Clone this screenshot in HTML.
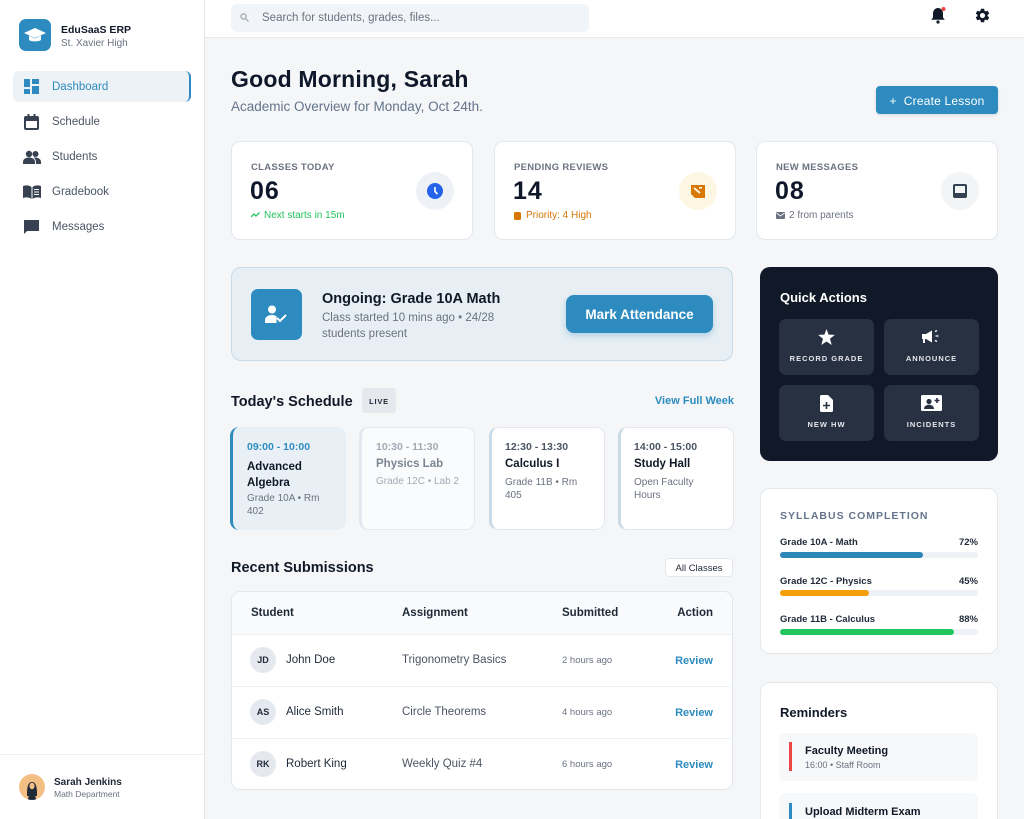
<!DOCTYPE html>
<html><head><meta charset="utf-8">
<style>
*{box-sizing:border-box;margin:0;padding:0}
html,body{width:1024px;height:819px;overflow:hidden}
body{background:#f4f6f8;font-family:"Liberation Sans",sans-serif;position:relative;color:#111827}
.a{position:absolute}
.t{position:absolute;white-space:nowrap;line-height:1;margin-top:1px}
.b{font-weight:bold}
.card{position:absolute;background:#fff;border:1px solid #e3e8ee;border-radius:9px}
.nav{color:#4b5563;font-size:11.5px}
.lbl{font-size:9.5px;font-weight:bold;color:#6b7280;letter-spacing:0.3px}
.num{font-size:25px;font-weight:bold;color:#0f172a;letter-spacing:1px}
.circ{position:absolute;width:38px;height:38px;border-radius:50%}
.qa{position:absolute;width:95px;height:56px;background:#283142;border-radius:7px}
.qal{position:absolute;left:0;width:95px;text-align:center;top:36px;font-size:7.5px;font-weight:bold;color:#e5e7eb;letter-spacing:1px;line-height:1}
.sc{position:absolute;top:427px;width:116px;height:103px;border-radius:9px}
.th{font-size:11.5px;font-weight:bold;color:#1f2937}
.av{position:absolute;width:26px;height:26px;border-radius:50%;background:#e5e9ef;font-size:9px;font-weight:bold;color:#1f2937;text-align:center;line-height:26px}
.nm{font-size:11.5px;color:#1f2937}
.as{font-size:11.5px;color:#4b5563}
.tm{font-size:9.5px;color:#6b7280}
.rv{font-size:11px;font-weight:bold;color:#2d8bbf}
.row{position:absolute;left:231px;width:502px;height:1px;background:#eef1f4}
.pl{font-size:9.5px;font-weight:bold;color:#1f2937}
.track{position:absolute;left:780px;width:198px;height:6px;border-radius:3px;background:#eef2f6}
.fill{position:absolute;left:0;top:0;height:6px;border-radius:3px}
</style></head><body>

<!-- Sidebar -->
<div class="a" style="left:0;top:0;width:205px;height:819px;background:#fff;border-right:1px solid #e5e7eb"></div>
<div class="a" style="left:19px;top:19px;width:32px;height:32px;border-radius:7px;background:#2d8bbf">
<svg width="32" height="32" viewBox="0 0 32 32"><path d="M16 9 L27 14 L16 19 L5 14 Z" fill="#fff"/><path d="M10 16.5 v4 c0 2.5 12 2.5 12 0 v-4 l-6 3 z" fill="#fff"/></svg>
</div>
<div class="t b" style="left:61px;top:24px;font-size:10.5px;color:#111827">EduSaaS ERP</div>
<div class="t" style="left:61px;top:38px;font-size:10px;color:#6b7280">St. Xavier High</div>

<div class="a" style="left:13px;top:71px;width:178px;height:31px;border-radius:6px;background:#edf2f6;border-right:2px solid #2d8bbf"></div>
<svg class="a" style="left:24px;top:79px" width="15" height="15" viewBox="0 0 15 15"><rect x="0" y="0" width="6" height="8" fill="#2d8bbf"/><rect x="8" y="0" width="7" height="5" fill="#2d8bbf"/><rect x="0" y="10" width="6" height="5" fill="#2d8bbf"/><rect x="8" y="7" width="7" height="8" fill="#2d8bbf"/></svg>
<div class="t nav" style="left:52px;top:81px;color:#2d8bbf">Dashboard</div>

<svg class="a" style="left:24px;top:114px" width="15" height="16" viewBox="0 0 15 16"><rect x="1" y="3" width="13" height="12" rx="1" fill="none" stroke="#374151" stroke-width="2"/><rect x="1" y="3" width="13" height="4" fill="#374151"/><rect x="3.5" y="0" width="2" height="4" fill="#374151"/><rect x="9.5" y="0" width="2" height="4" fill="#374151"/></svg>
<div class="t nav" style="left:52px;top:116px">Schedule</div>

<svg class="a" style="left:23px;top:150px" width="18" height="14" viewBox="0 0 18 14"><circle cx="6" cy="4" r="3.2" fill="#374151"/><circle cx="12.5" cy="4" r="3" fill="#374151"/><path d="M0 14 v-2 c0-3 3-4.5 6-4.5 s6 1.5 6 4.5 v2z" fill="#374151"/><path d="M12 7.5 c3 0 6 1.5 6 4.5 v2 h-5 v-2 c0-2-1-3.5-2.5-4.3z" fill="#374151"/></svg>
<div class="t nav" style="left:52px;top:151px">Students</div>

<svg class="a" style="left:23px;top:185px" width="18" height="14" viewBox="0 0 18 14"><path d="M0 1 c3-1 6-1 8.5 1 v12 c-2.5-2-5.5-2-8.5-1z" fill="#374151"/><path d="M18 1 c-3-1-6-1-8.5 1 v12 c2.5-2 5.5-2 8.5-1z" fill="#374151"/><rect x="11" y="4" width="5" height="1" fill="#fff"/><rect x="11" y="6.5" width="5" height="1" fill="#fff"/><rect x="11" y="9" width="5" height="1" fill="#fff"/></svg>
<div class="t nav" style="left:52px;top:186px">Gradebook</div>

<svg class="a" style="left:24px;top:220px" width="15" height="15" viewBox="0 0 15 15"><path d="M0 0 h15 v11 h-12 l-3 3z" fill="#374151"/></svg>
<div class="t nav" style="left:52px;top:221px">Messages</div>

<div class="a" style="left:0;top:754px;width:204px;height:65px;background:#fff;border-top:1px solid #eef0f3"></div>
<div class="a" style="left:19px;top:774px;width:26px;height:26px;border-radius:50%;background:#f4bf85;overflow:hidden">
<svg width="26" height="26" viewBox="0 0 26 26"><path d="M8 22 c0-6 0-14 5-14 s5 8 5 14z" fill="#1f2937"/><ellipse cx="13" cy="12" rx="2.6" ry="3.2" fill="#f4bf85"/><path d="M9 26 c0-4 2-6 4-6 s4 2 4 6z" fill="#1f2937"/></svg>
</div>
<div class="t b" style="left:54px;top:777px;font-size:10px;color:#1f2937">Sarah Jenkins</div>
<div class="t" style="left:54px;top:789px;font-size:8.5px;color:#6b7280">Math Department</div>

<!-- Header -->
<div class="a" style="left:205px;top:0;width:819px;height:38px;background:#fff;border-bottom:1px solid #e8ecf0"></div>
<div class="a" style="left:231px;top:4px;width:358px;height:28px;border-radius:6px;background:#f1f5f9"></div>
<svg class="a" style="left:240px;top:13px" width="9" height="9" viewBox="0 0 9 9"><circle cx="3.5" cy="3.5" r="2.6" fill="none" stroke="#9ca3af" stroke-width="1.2"/><path d="M5.5 5.5 L8.5 8.5" stroke="#9ca3af" stroke-width="1.2"/></svg>
<div class="t" style="left:262px;top:12px;font-size:11.5px;color:#6b7280">Search for students, grades, files...</div>
<svg class="a" style="left:930px;top:7px" width="16" height="17" viewBox="0 0 16 17"><path d="M8 1 c-3 0-5 2.5-5 5.5 v4 l-1.8 2.2 h13.6 l-1.8-2.2 v-4 c0-3-2-5.5-5-5.5z" fill="#111827"/><circle cx="8" cy="15" r="1.6" fill="#111827"/><circle cx="13.5" cy="2" r="2" fill="#ef4444"/></svg>
<svg class="a" style="left:974px;top:7px" width="17" height="17" viewBox="0 0 24 24"><path fill="#111827" d="M19.14 12.94c.04-.3.06-.61.06-.94 0-.32-.02-.64-.07-.94l2.03-1.58a.49.49 0 0 0 .12-.61l-1.92-3.32a.488.488 0 0 0-.59-.22l-2.390.96c-.5-.38-1.03-.7-1.62-.94l-.36-2.54a.484.484 0 0 0-.48-.41h-3.84c-.24 0-.43.17-.47.41l-.36 2.54c-.59.24-1.13.57-1.62.94l-2.39-.96c-.22-.08-.47 0-.59.22L2.740 8.87c-.12.21-.08.47.12.61l2.03 1.58c-.05.3-.09.63-.09.94s.02.64.07.94l-2.03 1.58a.49.49 0 0 0-.12.61l1.92 3.32c.12.22.37.29.59.22l2.39-.96c.5.38 1.03.7 1.62.94l.36 2.54c.05.24.24.41.48.41h3.84c.24 0 .44-.17.47-.41l.36-2.54c.59-.24 1.13-.56 1.62-.94l2.39.96c.22.08.47 0 .59-.22l1.92-3.32c.12-.22.07-.47-.12-.61l-2.01-1.58zM12 15.6c-1.98 0-3.6-1.62-3.6-3.6s1.62-3.6 3.6-3.6 3.6 1.62 3.6 3.6-1.62 3.6-3.6 3.6z"/></svg>

<!-- Title -->
<div class="t b" style="left:231px;top:67px;font-size:23px;color:#0f172a;letter-spacing:0.2px">Good Morning, Sarah</div>
<div class="t" style="left:231px;top:99px;font-size:13.5px;color:#64748b">Academic Overview for Monday, Oct 24th.</div>
<div class="a" style="left:876px;top:86px;width:122px;height:28px;border-radius:4px;background:#2d8bbf;box-shadow:0 1px 3px rgba(0,0,0,.12)"></div>
<div class="t" style="left:876px;width:122px;text-align:center;top:93.5px;font-size:12px;color:#fff;letter-spacing:0.2px">+&nbsp; Create Lesson</div>

<!-- Stat cards -->
<div class="card" style="left:231px;top:141px;width:242px;height:99px">
  <div class="t lbl" style="left:19px;top:20px">CLASSES TODAY</div>
  <div class="t num" style="left:18px;top:36px">06</div>
  <svg class="a" style="left:19px;top:69px" width="9" height="7" viewBox="0 0 9 7"><path d="M0 6 L3 3 L5 5 L8.5 1.5" fill="none" stroke="#22c55e" stroke-width="1.3"/></svg>
  <div class="t" style="left:32px;top:68px;font-size:10px;color:#22c55e">Next starts in 15m</div>
  <div class="circ" style="left:184px;top:30px;background:#eef2f7"></div>
  <svg class="a" style="left:195px;top:41px" width="16" height="16" viewBox="0 0 16 16"><circle cx="8" cy="8" r="8" fill="#2563eb"/><path d="M8 4 V8.5 L10.5 11" stroke="#fff" stroke-width="1.6" fill="none"/></svg>
</div>
<div class="card" style="left:494px;top:141px;width:242px;height:99px">
  <div class="t lbl" style="left:19px;top:20px">PENDING REVIEWS</div>
  <div class="t num" style="left:18px;top:36px">14</div>
  <div class="a" style="left:19px;top:70px;width:7px;height:8px;border-radius:1.5px;background:#d97706"></div>
  <div class="t" style="left:31px;top:68px;font-size:10px;color:#d97706">Priority: 4 High</div>
  <div class="circ" style="left:184px;top:30px;background:#fdf6e3"></div>
  <svg class="a" style="left:196px;top:42px" width="14" height="14" viewBox="0 0 14 14"><path d="M0 1 h14 v13 h-10 l-4-4 z" fill="#d97706"/><path d="M3 4 l6 5" stroke="#fdf6e3" stroke-width="1.8"/><rect x="8" y="3" width="3" height="1.6" fill="#fdf6e3"/></svg>
</div>
<div class="card" style="left:756px;top:141px;width:242px;height:99px">
  <div class="t lbl" style="left:19px;top:20px">NEW MESSAGES</div>
  <div class="t num" style="left:18px;top:36px">08</div>
  <svg class="a" style="left:19px;top:70px" width="9" height="7" viewBox="0 0 9 7"><rect width="9" height="7" rx="1" fill="#6b7280"/><path d="M0.5 1 L4.5 4 L8.5 1" stroke="#fff" stroke-width="0.8" fill="none"/></svg>
  <div class="t" style="left:32px;top:68px;font-size:10px;color:#6b7280">2 from parents</div>
  <div class="circ" style="left:184px;top:30px;background:#f3f4f6"></div>
  <svg class="a" style="left:196px;top:42px" width="14" height="14" viewBox="0 0 14 14"><rect width="14" height="14" rx="2" fill="#334155"/><rect x="2" y="2" width="10" height="7" fill="#f3f4f6"/></svg>
</div>

<!-- Ongoing banner -->
<div class="a" style="left:231px;top:267px;width:502px;height:94px;border-radius:10px;background:#e8eff4;border:1.5px solid #c9dae5"></div>
<div class="a" style="left:251px;top:289px;width:51px;height:51px;border-radius:7px;background:#2d8bbf"></div>
<svg class="a" style="left:265px;top:305px" width="24" height="19" viewBox="0 0 24 19"><circle cx="7" cy="4.5" r="4" fill="#fff"/><path d="M0 18 v-3 c0-3 3-5 7-5 c2 0 3.5 .5 4.5 1.2 v6.8z" fill="#fff"/><path d="M12 13 l3 3 l6-6" stroke="#fff" stroke-width="2" fill="none"/></svg>
<div class="t b" style="left:322px;top:291px;font-size:14.5px;color:#111827">Ongoing: Grade 10A Math</div>
<div class="t" style="left:322px;top:312px;font-size:11.5px;color:#6b7280">Class started 10 mins ago • 24/28</div>
<div class="t" style="left:322px;top:328px;font-size:11.5px;color:#6b7280">students present</div>
<div class="a" style="left:566px;top:295px;width:147px;height:38px;border-radius:8px;background:#2d8bbf;box-shadow:0 3px 7px rgba(45,139,191,.3)"></div>
<div class="t b" style="left:566px;width:147px;text-align:center;top:307px;font-size:13.5px;color:#fff">Mark Attendance</div>

<!-- Today's schedule -->
<div class="t b" style="left:231px;top:393.5px;font-size:14.5px;color:#111827">Today's Schedule</div>
<div class="a" style="left:362px;top:388px;width:34px;height:25px;border-radius:3px;background:#e5e9ee"></div>
<div class="t b" style="left:362px;width:34px;text-align:center;top:396.5px;font-size:7.5px;color:#1f2937;letter-spacing:0.8px">LIVE</div>
<div class="t b" style="right:290px;top:395px;font-size:11px;color:#2d8bbf">View Full Week</div>

<div class="sc" style="left:230px;background:#e9f0f5;border-left:3px solid #2d8bbf"></div>
<div class="t b" style="left:247px;top:441px;font-size:10.5px;color:#2d8bbf">09:00 - 10:00</div>
<div class="t b" style="left:247px;top:458px;font-size:11.5px;color:#111827;line-height:16px;white-space:normal;width:90px">Advanced<br>Algebra</div>
<div class="t" style="left:247px;top:491px;font-size:10px;color:#6b7280;line-height:13px;white-space:normal;width:90px">Grade 10A • Rm<br>402</div>

<div class="sc" style="left:359px;background:#fafbfc;border:1px solid #e5e9ee;border-left:3px solid #e3e8ee"></div>
<div class="t b" style="left:376px;top:441px;font-size:10.5px;color:#a3aab4">10:30 - 11:30</div>
<div class="t b" style="left:376px;top:458px;font-size:11.5px;color:#7c8591">Physics Lab</div>
<div class="t" style="left:376px;top:476px;font-size:10px;color:#a3aab4">Grade 12C • Lab 2</div>

<div class="sc" style="left:489px;background:#fff;border:1px solid #e3e8ee;border-left:3px solid #c8dbe6"></div>
<div class="t b" style="left:505px;top:441px;font-size:10.5px;color:#4b5563">12:30 - 13:30</div>
<div class="t b" style="left:505px;top:458px;font-size:11.5px;color:#111827">Calculus I</div>
<div class="t" style="left:505px;top:475px;font-size:10px;color:#6b7280;line-height:13px;white-space:normal;width:90px">Grade 11B • Rm<br>405</div>

<div class="sc" style="left:618px;background:#fff;border:1px solid #e3e8ee;border-left:3px solid #c8dbe6"></div>
<div class="t b" style="left:634px;top:441px;font-size:10.5px;color:#4b5563">14:00 - 15:00</div>
<div class="t b" style="left:634px;top:458px;font-size:11.5px;color:#111827">Study Hall</div>
<div class="t" style="left:634px;top:475px;font-size:10px;color:#6b7280;line-height:13px;white-space:normal;width:90px">Open Faculty<br>Hours</div>

<!-- Recent submissions -->
<div class="t b" style="left:231px;top:559.5px;font-size:14.5px;color:#111827">Recent Submissions</div>
<div class="a" style="left:665px;top:558px;width:68px;height:19px;border-radius:4px;background:#fff;border:1px solid #e3e8ee"></div>
<div class="t" style="left:665px;width:68px;text-align:center;top:562.5px;font-size:9.5px;color:#1f2937">All Classes</div>

<div class="a" style="left:231px;top:591px;width:502px;height:199px;border-radius:9px;background:#fff;border:1px solid #e3e8ee;overflow:hidden">
  <div class="a" style="left:0;top:0;width:502px;height:43px;background:#f8fafc;border-bottom:1px solid #eef1f4"></div>
</div>
<div class="t th" style="left:251px;top:607px">Student</div>
<div class="t th" style="left:402px;top:607px">Assignment</div>
<div class="t th" style="left:562px;top:607px">Submitted</div>
<div class="t th" style="right:311px;top:607px">Action</div>
<div class="row" style="top:686px"></div>
<div class="row" style="top:738px"></div>

<div class="av" style="left:250px;top:647px">JD</div>
<div class="t nm" style="left:286px;top:654px">John Doe</div>
<div class="t as" style="left:402px;top:654px">Trigonometry Basics</div>
<div class="t tm" style="left:562px;top:655px">2 hours ago</div>
<div class="t rv" style="right:311px;top:654.5px">Review</div>

<div class="av" style="left:250px;top:699px">AS</div>
<div class="t nm" style="left:286px;top:706px">Alice Smith</div>
<div class="t as" style="left:402px;top:706px">Circle Theorems</div>
<div class="t tm" style="left:562px;top:707px">4 hours ago</div>
<div class="t rv" style="right:311px;top:706.5px">Review</div>

<div class="av" style="left:250px;top:751px">RK</div>
<div class="t nm" style="left:286px;top:758px">Robert King</div>
<div class="t as" style="left:402px;top:758px">Weekly Quiz #4</div>
<div class="t tm" style="left:562px;top:759px">6 hours ago</div>
<div class="t rv" style="right:311px;top:758.5px">Review</div>

<!-- Quick Actions -->
<div class="a" style="left:760px;top:267px;width:238px;height:194px;border-radius:10px;background:#111827"></div>
<div class="t b" style="left:780px;top:290px;font-size:13px;color:#fff">Quick Actions</div>
<div class="qa" style="left:779px;top:319px">
  <svg class="a" style="left:39px;top:10px" width="17" height="16" viewBox="0 0 24 23"><path fill="#fff" d="M12 0 L15 8 L24 8.5 L17 14 L19.5 23 L12 18 L4.5 23 L7 14 L0 8.5 L9 8 Z"/></svg>
  <div class="qal">RECORD GRADE</div>
</div>
<div class="qa" style="left:884px;top:319px">
  <svg class="a" style="left:38px;top:11px" width="18" height="14" viewBox="0 0 18 14"><path d="M0 4 h4 l6-3.5 v12 l-6-3.5 h-1 v4 h-2 v-4 h-1z" fill="#fff"/><path d="M13 1.5 l2-1 M13.5 6 h3 M13 10.5 l2 1" stroke="#fff" stroke-width="1.3"/></svg>
  <div class="qal">ANNOUNCE</div>
</div>
<div class="qa" style="left:779px;top:385px">
  <svg class="a" style="left:41px;top:10px" width="13" height="17" viewBox="0 0 13 17"><path d="M0 1.5 q0-1.5 1.5-1.5 h6.5 l5 5 v10.5 q0 1.5-1.5 1.5 h-10 q-1.5 0-1.5-1.5z" fill="#fff"/><path d="M6.5 7 v7 M3 10.5 h7" stroke="#283142" stroke-width="1.6"/></svg>
  <div class="qal">NEW HW</div>
</div>
<div class="qa" style="left:884px;top:385px">
  <svg class="a" style="left:37px;top:10px" width="21" height="16" viewBox="0 0 21 16"><rect width="21" height="16" rx="1.5" fill="#fff"/><circle cx="8" cy="6.5" r="2.6" fill="#283142"/><path d="M3 14 c0-3 2.5-4.3 5-4.3 s5 1.3 5 4.3z" fill="#283142"/><path d="M16 3 v5 M13.5 5.5 h5" stroke="#283142" stroke-width="1.6"/></svg>
  <div class="qal">INCIDENTS</div>
</div>

<!-- Syllabus -->
<div class="a" style="left:760px;top:488px;width:238px;height:166px;border-radius:10px;background:#fff;border:1px solid #e3e8ee"></div>
<div class="t b" style="left:780px;top:509.5px;font-size:10.5px;color:#64748b;letter-spacing:1px">SYLLABUS COMPLETION</div>
<div class="t pl" style="left:780px;top:537px">Grade 10A - Math</div>
<div class="t pl" style="right:46px;top:537px">72%</div>
<div class="track" style="top:552px"><div class="fill" style="width:72%;background:#2d86b8"></div></div>
<div class="t pl" style="left:780px;top:575.5px">Grade 12C - Physics</div>
<div class="t pl" style="right:46px;top:575.5px">45%</div>
<div class="track" style="top:590px"><div class="fill" style="width:45%;background:#f59e0b"></div></div>
<div class="t pl" style="left:780px;top:614px">Grade 11B - Calculus</div>
<div class="t pl" style="right:46px;top:614px">88%</div>
<div class="track" style="top:629px"><div class="fill" style="width:88%;background:#22c55e"></div></div>

<!-- Reminders -->
<div class="a" style="left:760px;top:682px;width:238px;height:170px;border-radius:10px;background:#fff;border:1px solid #e3e8ee"></div>
<div class="t b" style="left:780px;top:704.5px;font-size:13px;color:#111827">Reminders</div>
<div class="a" style="left:779px;top:733px;width:199px;height:48px;border-radius:6px;background:#f6f8fa"></div>
<div class="a" style="left:789px;top:742px;width:2.5px;height:29px;background:#ef4444"></div>
<div class="t b" style="left:805px;top:745px;font-size:11px;color:#111827">Faculty Meeting</div>
<div class="t" style="left:805px;top:760px;font-size:9px;color:#6b7280">16:00 • Staff Room</div>
<div class="a" style="left:779px;top:793px;width:199px;height:48px;border-radius:6px;background:#f6f8fa"></div>
<div class="a" style="left:789px;top:803px;width:2.5px;height:29px;background:#2d8bbf"></div>
<div class="t b" style="left:805px;top:805.5px;font-size:11px;color:#111827">Upload Midterm Exam</div>

</body></html>
